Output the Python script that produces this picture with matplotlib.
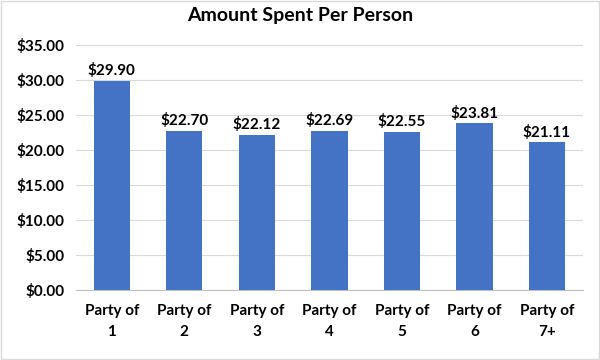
import matplotlib
matplotlib.use('Agg')
from matplotlib import pyplot as plt
from matplotlib.patches import Rectangle
import numpy as np

categories = ['Party of\n1', 'Party of\n2', 'Party of\n3', 'Party of\n4',
              'Party of\n5', 'Party of\n6', 'Party of\n7+']
spent = [29.90, 22.70, 22.12, 22.69, 22.55, 23.81, 21.11]
yticks = [0, 5, 10, 15, 20, 25, 30, 35]

plt.rcParams['font.family'] = ['Lato', 'DejaVu Sans']
plt.rcParams['font.weight'] = 'bold'

fig = plt.figure(figsize=(6, 3.6), dpi=100)
ax = fig.add_axes([0.126, 0.194, 0.846, 0.681])

x = np.arange(len(categories))
rects = ax.bar(x, spent, width=0.5, color='#4472C4', zorder=3)

for rect, val in zip(rects, spent):
    ax.annotate('${:.2f}'.format(val),
                xy=(rect.get_x() + rect.get_width() / 2, rect.get_height()),
                xytext=(0, 2), textcoords='offset points',
                ha='center', va='bottom', fontsize=11, fontweight='bold')

ax.set_xlim(-0.5, len(categories) - 0.5)
ax.set_ylim(0, 35)
ax.set_yticks(yticks)
ax.set_yticklabels(['${:.2f}'.format(v) for v in yticks])
ax.set_xticks(x)
ax.set_xticklabels(categories, linespacing=1.6)
ax.tick_params(axis='both', length=0, labelsize=11)
ax.tick_params(axis='y', pad=8)
ax.tick_params(axis='x', pad=10)
ax.grid(axis='y', color='#d9d9d9', linewidth=0.8, zorder=0)
for side in ['top', 'right', 'left']:
    ax.spines[side].set_visible(False)
ax.spines['bottom'].set_color('#bfbfbf')

fig.suptitle('Amount Spent Per Person', y=0.98, fontsize=14, fontweight='bold')

fig.patches.append(Rectangle((0.002, 0.003), 0.996, 0.994, transform=fig.transFigure,
                             fill=False, edgecolor='#d9d9d9', linewidth=1))

fig.savefig('out.png', dpi=100)
